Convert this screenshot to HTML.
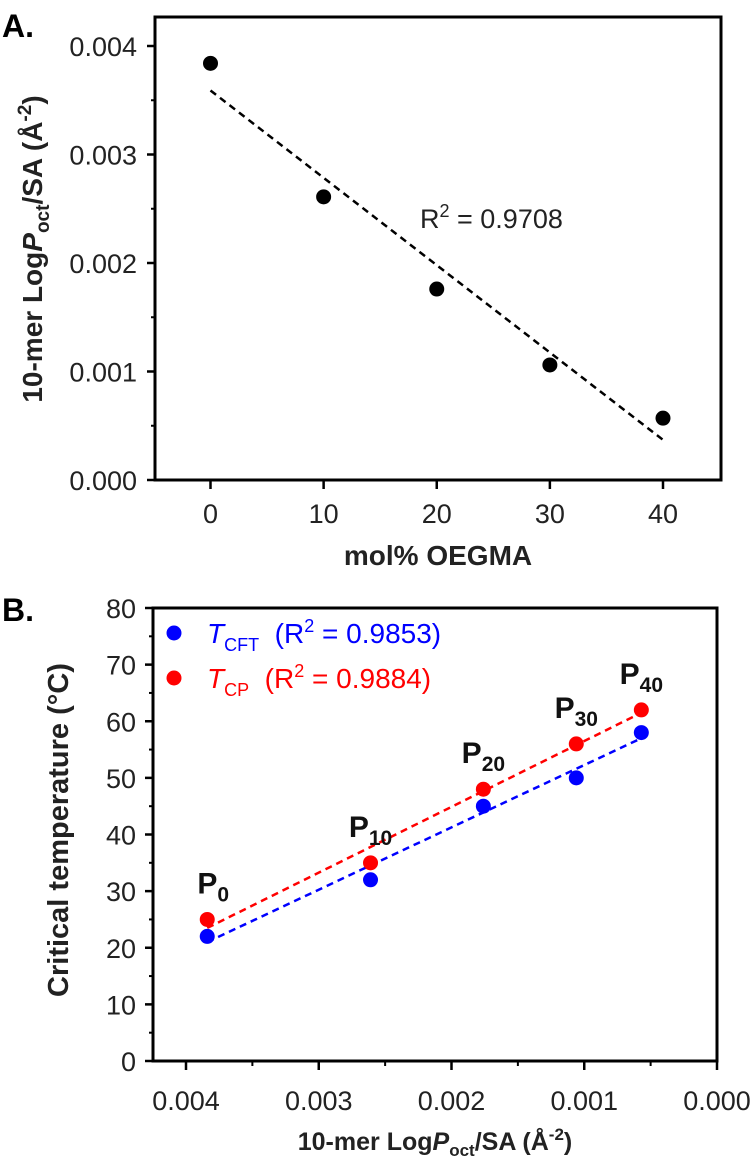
<!DOCTYPE html>
<html><head><meta charset="utf-8"><style>
html,body{margin:0;padding:0;background:#fff;}
svg{display:block;font-family:"Liberation Sans",Arial,sans-serif;}
</style></head><body>
<svg id="fig" width="750" height="1157" viewBox="0 0 750 1157" xmlns="http://www.w3.org/2000/svg"></svg>
<script>
// ---- Panel A data ----
const aCats = [0, 10, 20, 30, 40];
const aVals = [0.00384, 0.00261, 0.00176, 0.00106, 0.00057];
const aFit = [0.00359, 0.00037];
const aXTicks = [0, 10, 20, 30, 40];
const aYTicks = [0, 0.001, 0.002, 0.003, 0.004];
const aYTickLabels = ["0.000", "0.001", "0.002", "0.003", "0.004"];
// ---- Panel B data ----
const bX = [0.00384, 0.00261, 0.00176, 0.00106, 0.00057];
const bCFT = [22, 32, 45, 50, 58];
const bCP = [25, 35, 48, 56, 62];
const bFitCFT = [21, 57];
const bFitCP = [23.5, 61.5];
const bLabels = ["0", "10", "20", "30", "40"];
const bXTicks = [0.004, 0.003, 0.002, 0.001, 0];
const bXTickLabels = ["0.004", "0.003", "0.002", "0.001", "0.000"];
const bYTicks = [0, 10, 20, 30, 40, 50, 60, 70, 80];

const NS = "http://www.w3.org/2000/svg";
const svg = document.getElementById("fig");
function mk(tag, attrs, parent) {
  const e = document.createElementNS(NS, tag);
  for (const k in attrs) e.setAttribute(k, attrs[k]);
  (parent || svg).appendChild(e);
  return e;
}
const axL = 155, axR = 721, axT = 17, axB = 480;
const ax = v => 210.5 + (v - 0) * (663 - 210.5) / 40;
const ay = v => axB - v * (480 - 46) / 0.004;
const bL = 153, bR = 717, bT = 608, bB = 1061;
const bx = v => bR - v * (717 - 186) / 0.004;
const by = v => bB - v * (bB - bT) / 80;

// ---------- Panel A ----------
let t = mk("text", {x: 2, y: 37, "font-size": 32, "font-weight": "bold"});
t.textContent = "A.";


let r = mk("rect", {x: axL, y: axT, width: axR - axL, height: axB - axT, fill: "none", stroke: "#000", "stroke-width": 3});


for (let i = 0; i < aYTicks.length; i++) {
  const y = ay(aYTicks[i]);
  let l = mk("line", {x1: axL - 8, x2: axL, y1: y, y2: y, stroke: "#000", "stroke-width": 2.5});
  
  
  let tx = mk("text", {x: 137, y: y + 10, "font-size": 27, "text-anchor": "end", fill: "#222"});
  tx.textContent = aYTickLabels[i];
  
  
  if (i < aYTicks.length - 1) {
    const ym = ay(aYTicks[i] + 0.0005);
    let m = mk("line", {x1: axL - 4, x2: axL, y1: ym, y2: ym, stroke: "#000", "stroke-width": 2});
    
    
  }
}
for (let i = 0; i < aXTicks.length; i++) {
  const x = ax(aXTicks[i]);
  let l = mk("line", {x1: x, x2: x, y1: axB, y2: axB + 9, stroke: "#000", "stroke-width": 2.5});
  
  
  let tx = mk("text", {x: x, y: 523, "font-size": 27, "text-anchor": "middle", fill: "#222"});
  tx.textContent = String(aXTicks[i]);
  
  
}
t = mk("text", {x: 438, y: 565, "font-size": 28, "font-weight": "bold", "text-anchor": "middle", fill: "#222"});
t.textContent = "mol% OEGMA";


t = mk("text", {x: 0, y: 0, "font-size": 28, "font-weight": "bold", "text-anchor": "middle", fill: "#222", transform: "translate(42,249) rotate(-90)"});
t.innerHTML = '10-mer Log<tspan font-style="italic">P</tspan><tspan font-size="19" dy="7">oct</tspan><tspan dy="-7">/SA (Å</tspan><tspan font-size="19" dy="-11">-2</tspan><tspan dy="11">)</tspan>';


let fl = mk("line", {x1: ax(aCats[0]), y1: ay(aFit[0]), x2: ax(aCats[aCats.length - 1]), y2: ay(aFit[1]), stroke: "#000", "stroke-width": 2.5, "stroke-dasharray": "7,5"});


for (let i = 0; i < aCats.length; i++) {
  let c = mk("circle", {cx: ax(aCats[i]), cy: ay(aVals[i]), r: 7.5, fill: "#000"});
  
  
}
t = mk("text", {x: 420, y: 228, "font-size": 27, fill: "#222"});
t.innerHTML = 'R<tspan font-size="18" dy="-11">2</tspan><tspan dy="11"> = 0.9708</tspan>';



// ---------- Panel B ----------
t = mk("text", {x: 2, y: 621, "font-size": 32, "font-weight": "bold"});
t.textContent = "B.";


r = mk("rect", {x: bL, y: bT, width: bR - bL, height: bB - bT, fill: "none", stroke: "#000", "stroke-width": 3});


for (let i = 0; i < bYTicks.length; i++) {
  const y = by(bYTicks[i]);
  let l = mk("line", {x1: bL - 8, x2: bL, y1: y, y2: y, stroke: "#000", "stroke-width": 2.5});
  
  
  let tx = mk("text", {x: 136, y: y + 10, "font-size": 27, "text-anchor": "end", fill: "#222"});
  tx.textContent = String(bYTicks[i]);
  
  
  if (i < bYTicks.length - 1) {
    const ym = by(bYTicks[i] + 5);
    let m = mk("line", {x1: bL - 4, x2: bL, y1: ym, y2: ym, stroke: "#000", "stroke-width": 2});
    
    
  }
}
for (let i = 0; i < bXTicks.length; i++) {
  const x = bx(bXTicks[i]);
  let l = mk("line", {x1: x, x2: x, y1: bB, y2: bB + 9, stroke: "#000", "stroke-width": 2.5});
  
  
  let tx = mk("text", {x: x, y: 1110, "font-size": 27, "text-anchor": "middle", fill: "#222"});
  tx.textContent = bXTickLabels[i];
  
  
  if (i < bXTicks.length - 1) {
    const xm = bx(bXTicks[i] - 0.0005);
    let m = mk("line", {x1: xm, x2: xm, y1: bB, y2: bB + 5, stroke: "#000", "stroke-width": 2});
    
    
  }
}
t = mk("text", {x: 435, y: 1150, "font-size": 25, "font-weight": "bold", "text-anchor": "middle", fill: "#222"});
t.innerHTML = '10-mer Log<tspan font-style="italic">P</tspan><tspan font-size="17" dy="6">oct</tspan><tspan dy="-6">/SA (Å</tspan><tspan font-size="17" dy="-10">-2</tspan><tspan dy="10">)</tspan>';


t = mk("text", {x: 0, y: 0, "font-size": 29, "font-weight": "bold", "text-anchor": "middle", fill: "#222", transform: "translate(68,830) rotate(-90)"});
t.textContent = "Critical temperature (°C)";


const n = bX.length - 1;
fl = mk("line", {x1: bx(bX[0]), y1: by(bFitCP[0]), x2: bx(bX[n]), y2: by(bFitCP[1]), stroke: "#f00", "stroke-width": 2.5, "stroke-dasharray": "7,5"});


fl = mk("line", {x1: bx(bX[0]), y1: by(bFitCFT[0]), x2: bx(bX[n]), y2: by(bFitCFT[1]), stroke: "#00f", "stroke-width": 2.5, "stroke-dasharray": "7,5"});


for (let i = 0; i < bX.length; i++) {
  let c = mk("circle", {cx: bx(bX[i]), cy: by(bCFT[i]), r: 7.5, fill: "#00f"});
  
  
  c = mk("circle", {cx: bx(bX[i]), cy: by(bCP[i]), r: 7.5, fill: "#f00"});
  
  
  const top = Math.max(bCP[i], bCFT[i]);
  let lb = mk("text", {x: bx(bX[i]) + (i === 0 ? 6 : 0), y: by(top) - 26, "font-size": 30, "font-weight": "bold", "text-anchor": "middle", fill: "#111"});
  lb.innerHTML = 'P<tspan font-size="21" dy="8">' + bLabels[i] + '</tspan>';
  
  
}
let lc = mk("circle", {cx: 174, cy: 633, r: 7.5, fill: "#00f"});


t = mk("text", {x: 207, y: 643, "font-size": 28, fill: "#00f"});
t.innerHTML = '<tspan font-style="italic">T</tspan><tspan font-size="18" dy="8">CFT</tspan><tspan dy="-8" xml:space="preserve">  (R</tspan><tspan font-size="18" dy="-11">2</tspan><tspan dy="11"> = 0.9853)</tspan>';


lc = mk("circle", {cx: 174, cy: 678, r: 7.5, fill: "#f00"});


t = mk("text", {x: 207, y: 688, "font-size": 28, fill: "#f00"});
t.innerHTML = '<tspan font-style="italic">T</tspan><tspan font-size="18" dy="8">CP</tspan><tspan dy="-8" xml:space="preserve">  (R</tspan><tspan font-size="18" dy="-11">2</tspan><tspan dy="11"> = 0.9884)</tspan>';


</script>
</body></html>
